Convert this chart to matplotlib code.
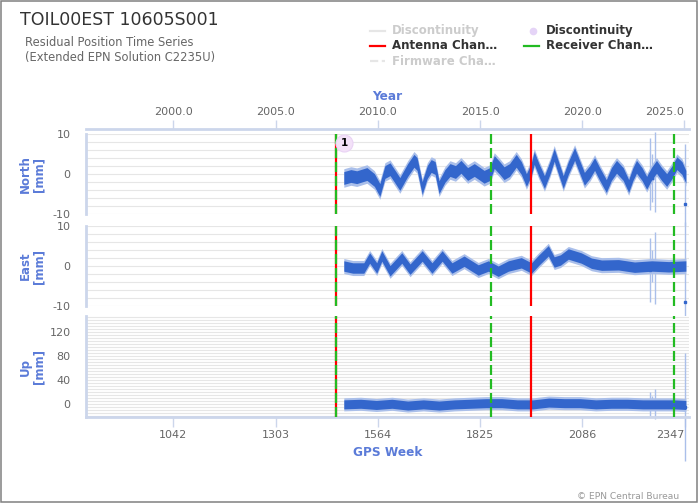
import matplotlib
matplotlib.use("Agg")
import matplotlib.pyplot as plt
from matplotlib.lines import Line2D
from matplotlib.patches import Rectangle
import numpy as np

plt.rcParams["axes.unicode_minus"] = False

# Residuals (GPS week, mm); centre of the point cloud
north_weeks = [1477, 1495, 1510, 1536, 1555, 1569, 1582, 1595, 1610, 1620,
               1640, 1656, 1664, 1677, 1690, 1700, 1710, 1720, 1735, 1748,
               1762, 1776, 1793, 1810, 1825, 1835, 1850, 1861, 1875, 1886,
               1900, 1917, 1930, 1943, 1955, 1963, 1975, 1989, 2003, 2014,
               2025, 2037, 2050, 2066, 2080, 2091, 2105, 2117, 2130, 2147,
               2160, 2173, 2190, 2204, 2215, 2224, 2238, 2250, 2262, 2275,
               2288, 2301, 2315, 2327, 2340, 2350]
north_vals = [-1.0, -0.5, -0.8, 0.0, -1.5, -4.0, 0.5, 1.2, -1.0, -2.5,
              1.0, 3.3, 2.5, -3.5, 0.5, 2.0, 1.5, -3.3, -0.5, 1.0,
              0.5, 1.8, 0.0, 1.0, 0.0, -0.7, 0.0, 3.0, 1.5, 0.2,
              1.0, 3.3, 1.5, -1.5, 1.0, 4.0, 1.0, -2.0, 1.5, 4.8,
              1.5, -2.0, 1.5, 5.0, 1.5, -1.2, 0.5, 2.5, 0.0, -3.0,
              0.0, 1.8, 0.0, -3.0, 0.0, 1.8, 0.0, -2.2, 0.0, 1.8,
              0.0, -1.5, 0.5, 2.7, 1.5, -0.7]

east_weeks = [1477, 1500, 1528, 1543, 1561, 1574, 1595, 1625, 1646, 1677,
              1702, 1728, 1753, 1784, 1820, 1846, 1871, 1897, 1930, 1956,
              1975, 1999, 2014, 2030, 2050, 2083, 2109, 2135, 2178, 2219,
              2263, 2306, 2350]
east_vals = [0.0, -0.5, -0.5, 2.0, -0.5, 2.5, -1.2, 2.0, -0.8, 2.5,
             -0.5, 2.5, -0.5, 1.2, -1.0, 0.0, -1.3, 0.0, 0.8, -0.5,
             1.5, 3.8, 1.0, 1.5, 3.0, 2.0, 0.7, 0.2, 0.3, -0.3,
             0.0, -0.2, 0.0]

up_weeks = [1477, 1520, 1560, 1600, 1640, 1680, 1720, 1760, 1800, 1840,
            1880, 1920, 1960, 2000, 2040, 2080, 2120, 2160, 2200, 2240,
            2280, 2320, 2350]
up_vals = [0, 1, -1, 1, -2, 0, -2, 0, 1, 2,
           2, 0, 0, 3, 2, 2, 0, 1, 1, 0,
           0, 0, -1]

north_spread = 1.6
east_spread = 1.3
up_spread = 7.5

# isolated points with large error bars near the end
outlier_weeks = [2259, 2264, 2271, 2348]
outlier_north = [0.0, -1.0, 0.5, -7.5]
outlier_north_err = [9, 6, 10, 15]
outlier_east = [-1.0, 0.0, -0.5, -9.0]
outlier_east_err = [8, 4, 9, 20]
outlier_up = [0, 2, 1, -5]
outlier_up_err = [20, 12, 25, 90]

antenna_weeks = [1456, 1956]
receiver_weeks = [1456, 1852, 2320]
disc_week = 1478
disc_label = "1"

gps_ticks = [1042, 1303, 1564, 1825, 2086, 2347]
year_ticks = [2000.0, 2005.0, 2010.0, 2015.0, 2020.0, 2025.0]

week_min, week_max = 819, 2358

BLUE = "#3366cc"
FRINGE = "#aabfea"
LABEL = "#5b7bd8"
TICK = "#666666"
AXIS = "#ccd6eb"
GRID = "#e6e6e6"
RED = "#ff0000"
GREEN = "#22bb22"


def w2y(w):
    return 2000.0 + (np.asarray(w) - 1042) * 7 / 365.25


fig = plt.figure(figsize=(7, 5.04), dpi=100)

L, W = 86 / 700, 603 / 700
ax_n = fig.add_axes([L, (504 - 214) / 504, W, 80 / 504])
ax_e = fig.add_axes([L, (504 - 306) / 504, W, 80 / 504])
ax_u = fig.add_axes([L, (504 - 417) / 504, W, 101 / 504])

panels = [
    (ax_n, north_weeks, north_vals, north_spread, outlier_north, outlier_north_err,
     (-10, 10), [-10, 0, 10], 2, "North\n[mm]"),
    (ax_e, east_weeks, east_vals, east_spread, outlier_east, outlier_east_err,
     (-10, 10), [-10, 0, 10], 2, "East\n[mm]"),
    (ax_u, up_weeks, up_vals, up_spread, outlier_up, outlier_up_err,
     (-21, 147), [0, 40, 80, 120], 5, "Up\n[mm]"),
]

for ax, wk, vals, sp, ov, oe, ylim, yt, minor, lab in panels:
    wk = np.array(wk)
    vals = np.array(vals, dtype=float)
    ax.set_yticks(yt)
    first = np.ceil(ylim[0] / minor) * minor
    ax.set_yticks(np.arange(first, ylim[1] + 0.1, minor), minor=True)
    ax.set_xlim(week_min, week_max)
    ax.set_ylim(*ylim)
    ax.grid(True, which="both", axis="y", color=GRID, lw=0.8)
    ax.set_axisbelow(True)
    ax.tick_params(axis="y", which="both", length=0, labelsize=8,
                   labelcolor=TICK, pad=11)
    ax.tick_params(axis="x", which="both", length=0, labelbottom=False)
    for s in ["top", "right", "bottom"]:
        ax.spines[s].set_visible(False)
    ax.spines["left"].set_color(AXIS)
    ax.spines["left"].set_linewidth(2)
    ax.set_ylabel(lab, color=LABEL, fontsize=8.5, fontweight="bold",
                  linespacing=1.0)
    ax.yaxis.set_label_coords(-0.068, 0.5)

    # point cloud
    ax.fill_between(wk, vals - sp * 1.45, vals + sp * 1.45, color=FRINGE,
                    lw=0, zorder=2)
    ax.fill_between(wk, vals - sp, vals + sp, color=BLUE, lw=0, zorder=3)

    # outliers
    ov = np.array(ov, dtype=float)
    oe = np.array(oe, dtype=float)
    ax.vlines(outlier_weeks, ov - oe, ov + oe, color=FRINGE, lw=1,
              zorder=2, clip_on=False)
    ax.plot(outlier_weeks, ov, "s", ms=2, color=BLUE, zorder=3)

    # equipment changes
    for w in antenna_weeks:
        ax.axvline(w, color=RED, lw=1.6, zorder=4)
    for w in receiver_weeks:
        ax.axvline(w, color=GREEN, lw=1.6, ls=(0, (4.5, 1.8)), zorder=5)

# discontinuity marker
ax_n.scatter([disc_week], [7.75], s=150, color="#f3e1f8", edgecolor="#ead3f5",
             lw=0.8, zorder=6)
ax_n.text(disc_week, 7.75, disc_label, ha="center", va="center", fontsize=7.5,
          fontweight="bold", color="black", zorder=7)

# bottom GPS week axis
ax_u.spines["bottom"].set_visible(True)
ax_u.spines["bottom"].set_color(AXIS)
ax_u.spines["bottom"].set_linewidth(2)
ax_u.set_xticks(gps_ticks)
ax_u.tick_params(axis="x", length=7, width=1, color=AXIS, labelbottom=True,
                 labelsize=8, labelcolor=TICK, pad=2)
ax_u.xaxis.get_major_ticks()[-1].label1.set_ha("right")
ax_u.set_xlabel("GPS Week", color=LABEL, fontsize=8.7, fontweight="bold",
                labelpad=5)

# top year axis
ax_t = fig.add_axes([L, (504 - 129) / 504, W, 1e-6])
ax_t.set_xlim(w2y(week_min), w2y(week_max))
ax_t.set_xticks(year_ticks)
ax_t.set_xticklabels([f"{y:.1f}" for y in year_ticks])
ax_t.xaxis.set_ticks_position("top")
ax_t.xaxis.set_label_position("top")
ax_t.tick_params(axis="x", length=6.5, width=1, color=AXIS, labelsize=8,
                 labelcolor=TICK, pad=2)
ax_t.xaxis.get_major_ticks()[-1].label2.set_ha("right")
ax_t.set_yticks([])
for s in ["left", "right", "bottom"]:
    ax_t.spines[s].set_visible(False)
ax_t.spines["top"].set_color(AXIS)
ax_t.spines["top"].set_linewidth(2)
ax_t.set_xlabel("Year", color=LABEL, fontsize=8.7, fontweight="bold",
                labelpad=5)

# titles
H = 504.0
fig.text(20 / 700, 1 - 25 / H, "TOIL00EST 10605S001", fontsize=12.5,
         color="#333333", va="baseline")
fig.text(25 / 700, 1 - 45.7 / H, "Residual Position Time Series", fontsize=8.3,
         color=TICK, va="baseline")
fig.text(25 / 700, 1 - 60.7 / H, "(Extended EPN Solution C2235U)", fontsize=8.3,
         color=TICK, va="baseline")

# legend drawn by hand (Highcharts style)
legend_rows = [
    (370, 30.7, "line", "#e6e6e6", "-", "Discontinuity", "#cccccc"),
    (524, 30.7, "dot", "#e5d4f7", None, "Discontinuity", "#333333"),
    (370, 45.7, "line", RED, "-", "Antenna Chan…", "#333333"),
    (524, 45.7, "line", GREEN, "-", "Receiver Chan…", "#333333"),
    (370, 61.0, "line", "#e6e6e6", "--", "Firmware Cha…", "#cccccc"),
]
for x0, y0, kind, col, ls, txt, tcol in legend_rows:
    yf = 1 - y0 / H
    if kind == "line":
        fig.add_artist(Line2D([x0 / 700, (x0 + 15) / 700], [yf, yf], color=col,
                              lw=1.6, ls=ls))
    else:
        fig.add_artist(Line2D([(x0 + 8.5) / 700], [yf], marker="o", ms=4.5,
                              color=col, lw=0))
    fig.text((x0 + 21.5) / 700, yf - 3.6 / H, txt, fontsize=8.5,
             fontweight="bold", color=tcol, va="baseline")

fig.text(679 / 700, 1 - 499 / H, "© EPN Central Bureau", ha="right",
         va="baseline", fontsize=6.6, color="#999999")

fig.add_artist(Rectangle((0.5 / 700, 2 / H), 696.5 / 700, 501.5 / H,
                         transform=fig.transFigure, fill=False,
                         edgecolor="#808080", lw=1.1))

fig.savefig("out.png", dpi=100)
